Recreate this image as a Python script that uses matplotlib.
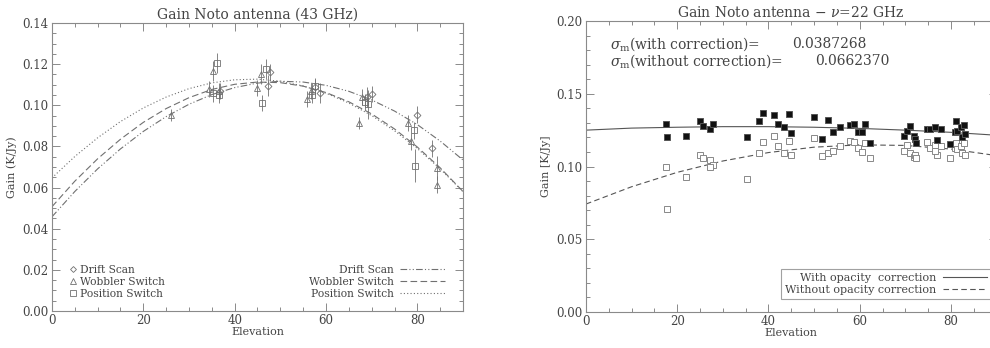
import numpy as np
import matplotlib
matplotlib.use("Agg")
import matplotlib.pyplot as plt
from matplotlib.lines import Line2D
from matplotlib.ticker import MultipleLocator

plt.rcParams['font.family'] = ['DejaVu Serif']
plt.rcParams['mathtext.fontset'] = 'dejavuserif'

# ---- left panel: 43 GHz, three observing modes ----
drift_el = [36.8, 47.2, 47.8, 57.5, 58.6, 69.0, 70.0, 79.9, 83.3]
drift_g = [0.107, 0.1095, 0.116, 0.109, 0.106, 0.104, 0.1055, 0.0955, 0.079]
drift_err = [0.004, 0.005, 0.004, 0.004, 0.005, 0.005, 0.004, 0.004, 0.004]

wob_el = [26.1, 34.4, 35.2, 36.6, 45.0, 45.7, 55.9, 56.8, 67.2, 67.8, 77.9, 78.6, 84.4, 84.4]
wob_g = [0.0953, 0.1078, 0.1166, 0.107, 0.1084, 0.1152, 0.103, 0.107, 0.0914, 0.104, 0.0913, 0.0825, 0.0695, 0.0614]
wob_err = [0.003, 0.004, 0.005, 0.004, 0.004, 0.005, 0.004, 0.004, 0.003, 0.004, 0.004, 0.004, 0.006, 0.004]

pos_el = [35.3, 36.1, 36.5, 46.0, 46.8, 57.0, 57.6, 68.5, 69.1, 79.2, 79.5]
pos_g = [0.1058, 0.1205, 0.105, 0.1011, 0.1176, 0.105, 0.1094, 0.1016, 0.1005, 0.0878, 0.0707]
pos_err = [0.004, 0.005, 0.004, 0.004, 0.005, 0.004, 0.004, 0.004, 0.007, 0.004, 0.008]

fit_el = [0, 5, 10, 15, 20, 25, 30, 35, 40, 45, 50, 55, 60, 65, 70, 75, 80, 85, 90]
fit_drift = [0.0458, 0.0581, 0.0691, 0.0788, 0.0873, 0.0945, 0.1005, 0.1052, 0.1086, 0.1108,
             0.1117, 0.1113, 0.1097, 0.1068, 0.1026, 0.0972, 0.0906, 0.0826, 0.0734]
fit_wob = [0.0507, 0.0631, 0.0740, 0.0835, 0.0917, 0.0984, 0.1037, 0.1077, 0.1102, 0.1113,
           0.1110, 0.1093, 0.1062, 0.1017, 0.0958, 0.0885, 0.0797, 0.0696, 0.0581]
fit_pos = [0.0647, 0.0751, 0.0842, 0.0921, 0.0987, 0.1040, 0.1081, 0.1109, 0.1124, 0.1127,
           0.1117, 0.1094, 0.1059, 0.1011, 0.0950, 0.0876, 0.0790, 0.0691, 0.0580]

# ---- right panel: 22 GHz, with / without opacity correction ----
el22 = [17.6, 17.8, 21.9, 24.9, 25.7, 27.2, 27.8, 35.3, 38.0, 38.9, 41.2, 42.0, 43.5, 44.4, 44.9,
        49.9, 51.7, 53.1, 54.1, 55.6, 57.9, 58.8, 59.6, 60.5, 61.2, 62.3,
        69.8, 70.4, 71.1, 71.8, 72.0, 72.4, 74.8, 75.5, 76.6, 77.0, 77.7, 79.7,
        80.8, 81.0, 81.4, 82.1, 82.5, 82.8, 83.0]
g_corr = [0.129, 0.1205, 0.1212, 0.131, 0.128, 0.126, 0.129, 0.120, 0.131, 0.1366, 0.1354, 0.129, 0.1274, 0.1359, 0.123,
          0.1343, 0.1189, 0.132, 0.124, 0.127, 0.1285, 0.129, 0.124, 0.124, 0.129, 0.116,
          0.121, 0.1244, 0.128, 0.121, 0.1187, 0.116, 0.126, 0.1256, 0.1274, 0.118, 0.126, 0.1157,
          0.124, 0.131, 0.1246, 0.127, 0.120, 0.1285, 0.1223]
g_raw = [0.0999, 0.0708, 0.0926, 0.1079, 0.106, 0.1045, 0.101, 0.0912, 0.109, 0.117, 0.121, 0.114, 0.109, 0.1177, 0.108,
         0.1198, 0.1072, 0.1095, 0.111, 0.1139, 0.1177, 0.117, 0.1125, 0.110, 0.116, 0.106,
         0.111, 0.1148, 0.109, 0.1063, 0.108, 0.1056, 0.117, 0.113, 0.115, 0.1079, 0.1143, 0.1056,
         0.113, 0.116, 0.112, 0.114, 0.109, 0.116, 0.108]
g_raw2_el = [27.1, 76.4]
g_raw2 = [0.0999, 0.111]

fit22_el = [0, 10, 20, 30, 40, 50, 60, 70, 80, 90]
fit22_corr = [0.1250, 0.1264, 0.1270, 0.1274, 0.1274, 0.1270, 0.1262, 0.1250, 0.1235, 0.1215]
fit22_raw = [0.0742, 0.0861, 0.0960, 0.1038, 0.1096, 0.1133, 0.1149, 0.1145, 0.1120, 0.1075]

sigma_corr = "0.0387268"
sigma_raw = "0.0662370"

fig = plt.figure(figsize=(9.9, 3.48), dpi=100)
axc = '#8a8a8a'
tc = '#444444'


def style(ax):
    for s in ax.spines.values():
        s.set_color(axc)
        s.set_linewidth(0.8)
    ax.tick_params(which='both', direction='in', top=True, right=True,
                   color=axc, labelcolor=tc, labelsize=8.5, width=0.7, pad=2.5)
    ax.tick_params(which='major', length=6)
    ax.tick_params(which='minor', length=3)
    ax.xaxis.set_minor_locator(MultipleLocator(5))


# left
ax1 = fig.add_axes([0.0525, 0.1063, 0.4152, 0.8276])
style(ax1)
gc = '#707070'
ax1.plot(fit_el, fit_drift, color=gc, lw=0.8, ls=(0, (6, 2, 1, 2, 1, 2)))
ax1.plot(fit_el, fit_wob, color=gc, lw=0.8, ls=(0, (6, 3)))
ax1.plot(fit_el, fit_pos, color=gc, lw=0.8, ls=(0, (1, 2)))
ax1.errorbar(drift_el, drift_g, yerr=drift_err, fmt='D', ms=3.5, mfc='none', mec=gc,
             ecolor=gc, elinewidth=0.6, mew=0.6)
ax1.errorbar(wob_el, wob_g, yerr=wob_err, fmt='^', ms=5, mfc='none', mec=gc,
             ecolor=gc, elinewidth=0.6, mew=0.6)
ax1.errorbar(pos_el, pos_g, yerr=pos_err, fmt='s', ms=5, mfc='none', mec=gc,
             ecolor=gc, elinewidth=0.6, mew=0.6)
ax1.set_xlim(0, 90)
ax1.set_ylim(0, 0.14)
ax1.xaxis.set_major_locator(MultipleLocator(20))
ax1.yaxis.set_major_locator(MultipleLocator(0.02))
ax1.yaxis.set_minor_locator(MultipleLocator(0.005))
ax1.yaxis.set_major_formatter(plt.FormatStrFormatter('%.2f'))
ax1.set_title('Gain Noto antenna (43 GHz)', fontsize=10, color=tc, pad=3)
ax1.set_xlabel('Elevation', fontsize=8, color=tc, labelpad=0)
ax1.set_ylabel('Gain (K/Jy)', fontsize=8, color=tc, labelpad=4)

mk = [Line2D([], [], ls='none', marker='D', ms=3, mfc='none', mec=gc, mew=0.6),
      Line2D([], [], ls='none', marker='^', ms=4, mfc='none', mec=gc, mew=0.6),
      Line2D([], [], ls='none', marker='s', ms=4, mfc='none', mec=gc, mew=0.6)]
names = ['Drift Scan', 'Wobbler Switch', 'Position Switch']
leg1 = ax1.legend(mk, names, loc='lower left', bbox_to_anchor=(0.025, 0.015), frameon=False,
                  fontsize=7.7, handlelength=0.6, handletextpad=0.4, labelspacing=0.2,
                  borderpad=0.2, labelcolor=tc)
ax1.add_artist(leg1)
ln = [Line2D([], [], color=gc, lw=0.8, ls=(0, (6, 2, 1, 2, 1, 2))),
      Line2D([], [], color=gc, lw=0.8, ls=(0, (6, 3))),
      Line2D([], [], color=gc, lw=0.8, ls=(0, (1, 2)))]
ax1.legend(ln, names, loc='lower right', bbox_to_anchor=(0.975, 0.015), frameon=False,
           fontsize=7.7, handlelength=4.2, handletextpad=0.6, labelspacing=0.2,
           borderpad=0.2, markerfirst=False, labelcolor=tc)

# right
ax2 = fig.add_axes([0.5919, 0.1034, 0.4148, 0.8362])
style(ax2)
ax2.plot(fit22_el, fit22_corr, color='#555555', lw=0.8, ls='-')
ax2.plot(fit22_el, fit22_raw, color='#555555', lw=0.8, ls=(0, (5, 3)))
ax2.plot(el22, g_raw, ls='none', marker='s', ms=5, mfc='white', mec='#888888', mew=0.7)
ax2.plot(g_raw2_el, g_raw2, ls='none', marker='s', ms=5, mfc='white', mec='#888888', mew=0.7)
ax2.plot(el22, g_corr, ls='none', marker='s', ms=5, mfc='#111111', mec='#555555', mew=0.7)
ax2.set_xlim(0, 90)
ax2.set_ylim(0, 0.20)
ax2.xaxis.set_major_locator(MultipleLocator(20))
ax2.yaxis.set_major_locator(MultipleLocator(0.05))
ax2.yaxis.set_minor_locator(MultipleLocator(0.01))
ax2.yaxis.set_major_formatter(plt.FormatStrFormatter('%.2f'))
ax2.set_title(r'Gain Noto antenna $-$ $\nu$=22 GHz', fontsize=10, color=tc, pad=3)
ax2.set_xlabel('Elevation', fontsize=8, color=tc, labelpad=0)
ax2.set_ylabel('Gain [K/Jy]', fontsize=8, color=tc, labelpad=4)
ax2.text(0.058, 0.921, r'$\sigma_{\rm m}$(with correction)=', transform=ax2.transAxes,
         fontsize=10, color=tc, va='center')
ax2.text(0.502, 0.921, sigma_corr, transform=ax2.transAxes, fontsize=10, color=tc, va='center')
ax2.text(0.058, 0.862, r'$\sigma_{\rm m}$(without correction)=', transform=ax2.transAxes,
         fontsize=10, color=tc, va='center')
ax2.text(0.558, 0.862, sigma_raw, transform=ax2.transAxes, fontsize=10, color=tc, va='center')
ln2 = [Line2D([], [], color='#555555', lw=0.8, ls='-'),
       Line2D([], [], color='#555555', lw=0.8, ls=(0, (5, 3)))]
lg2 = ax2.legend(ln2, ['With opacity  correction', 'Without opacity correction'],
                 loc='lower right', bbox_to_anchor=(1.0, 0.025), frameon=True,
                 fontsize=8, handlelength=4.0, handletextpad=0.6, labelspacing=0.2,
                 borderpad=0.35, markerfirst=False, labelcolor=tc, fancybox=False)
lg2.get_frame().set_edgecolor(axc)
lg2.get_frame().set_linewidth(0.8)

fig.savefig('out.png', dpi=100)
